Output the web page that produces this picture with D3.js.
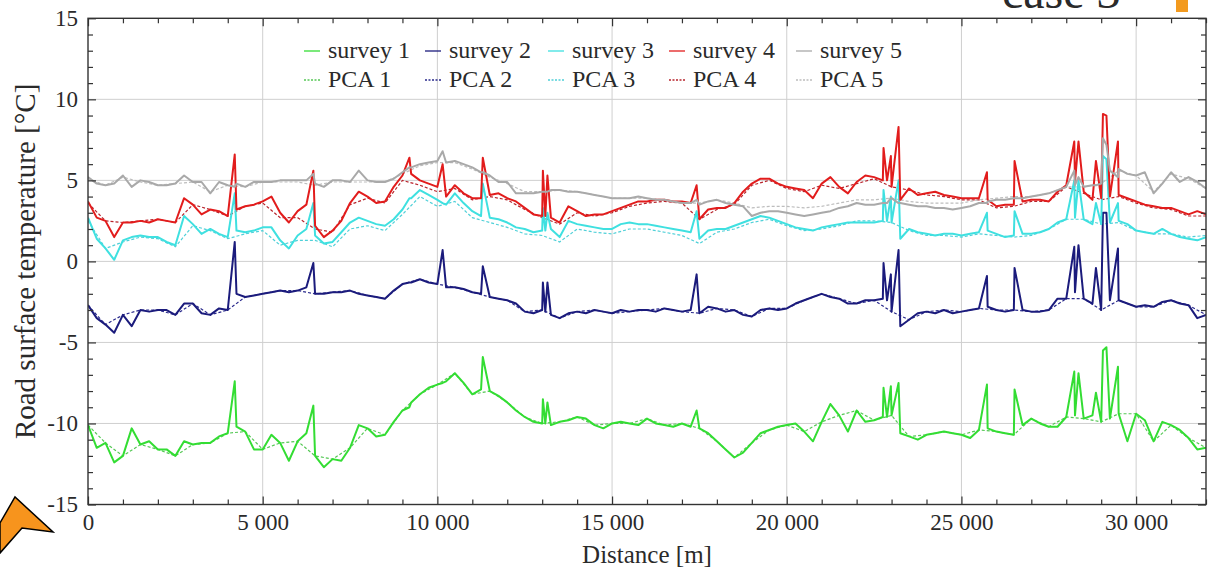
<!DOCTYPE html>
<html>
<head>
<meta charset="utf-8">
<script src="https://cdn.jsdelivr.net/npm/d3@7"></script>
<style>
  body { margin: 0; background: #fff; }
  svg text { font-family: "Liberation Serif", "DejaVu Serif", serif; fill: #2a2a2a; }
</style>
</head>
<body>
<div id="graph"></div>
<script>
// distance grid [m] shared by all survey series
var distances = d3.range(0, 32001, 250);

var survey1 = [-10.1,-11.5,-11.2,-12.4,-12.0,-10.3,-11.3,-11.1,-11.6,-11.6,-12.0,-11.1,-11.3,-11.2,-11.2,-10.8,-10.6,-10.2,-10.5,-11.6,
  -11.6,-10.7,-11.2,-12.3,-11.1,-10.6,-12.0,-12.7,-12.2,-12.3,-11.5,-10.1,-10.3,-10.8,-10.7,-9.9,-9.2,-8.7,-8.2,-7.8,
  -7.6,-7.4,-6.9,-7.5,-8.2,-7.9,-8.0,-8.3,-8.7,-9.2,-9.6,-9.9,-10.0,-10.1,-9.9,-9.8,-9.6,-9.7,-10.1,-10.3,
  -10.0,-9.9,-10.0,-10.1,-9.7,-10.0,-10.1,-10.2,-10.0,-10.2,-10.3,-10.6,-11.1,-11.6,-12.1,-11.8,-11.2,-10.6,-10.4,-10.2,
  -10.1,-10.0,-10.5,-11.1,-9.9,-8.8,-9.5,-10.5,-9.2,-9.9,-9.8,-9.6,-9.5,-10.6,-10.8,-11.0,-10.7,-10.6,-10.5,-10.6,
  -10.7,-10.9,-10.4,-10.3,-10.5,-10.6,-10.7,-10.1,-9.7,-10.0,-10.2,-10.2,-9.6,-9.5,-9.7,-9.5,-9.9,-9.7,-9.4,-11.1,
  -9.4,-9.8,-11.1,-9.9,-10.1,-10.4,-10.9,-11.6,-11.5];
var survey2 = [-2.7,-3.5,-3.9,-4.4,-3.3,-4.0,-3.0,-3.1,-3.0,-3.0,-3.3,-2.6,-2.6,-3.2,-3.3,-2.9,-3.0,-2.0,-2.2,-2.1,
  -2.0,-1.9,-1.8,-1.9,-1.8,-1.6,-2.0,-2.0,-1.9,-1.9,-1.8,-2.0,-2.1,-2.2,-2.3,-1.8,-1.4,-1.3,-1.1,-1.3,
  -1.4,-1.6,-1.6,-1.7,-1.9,-2.0,-2.2,-2.3,-2.4,-2.6,-3.1,-3.2,-3.0,-3.3,-3.5,-3.2,-3.1,-3.2,-3.0,-3.1,
  -3.2,-3.0,-3.1,-3.0,-3.0,-3.1,-2.9,-3.0,-3.1,-3.0,-3.2,-2.8,-2.9,-3.1,-3.0,-3.3,-3.4,-3.0,-2.9,-3.0,
  -2.9,-2.6,-2.4,-2.2,-2.0,-2.2,-2.3,-2.6,-2.6,-2.4,-2.4,-2.3,-3.1,-4.0,-3.6,-3.2,-3.1,-3.2,-3.0,-3.2,
  -3.1,-3.0,-2.9,-2.8,-3.0,-3.1,-3.0,-3.0,-3.1,-3.1,-3.0,-2.3,-2.3,-1.9,-2.3,-2.6,-3.0,-2.4,-2.4,-2.6,
  -2.8,-2.7,-2.8,-2.5,-2.4,-2.6,-2.7,-3.5,-3.3];
var survey3 = [2.7,1.4,0.8,0.1,1.3,1.5,1.6,1.5,1.5,1.2,1.0,2.8,2.3,1.7,2.0,1.7,1.5,1.9,1.8,1.9,
  2.1,2.1,1.3,0.8,1.6,2.0,1.6,1.1,1.2,1.8,2.4,2.7,2.5,2.3,2.2,2.6,3.2,3.9,4.4,4.1,
  3.8,3.5,4.2,3.6,3.1,2.8,2.7,2.6,2.4,2.1,2.0,1.8,1.9,2.0,1.5,2.5,2.3,2.2,2.1,2.0,
  2.0,2.3,2.4,2.3,2.3,2.2,2.1,2.0,1.9,1.8,1.4,1.9,2.0,2.0,2.2,2.4,2.6,2.8,2.7,2.5,
  2.3,2.1,2.0,1.9,2.1,2.2,2.3,2.4,2.4,2.4,2.4,2.5,2.4,1.4,2.0,1.8,1.7,1.6,1.7,1.7,
  1.6,1.7,1.8,1.9,1.7,1.5,1.6,1.7,1.7,1.8,2.0,2.4,2.6,2.7,2.6,2.3,2.3,2.4,2.5,2.3,
  1.9,1.8,1.7,2.0,1.7,1.5,1.4,1.3,1.5];
var survey4 = [3.7,2.7,2.5,1.5,2.4,2.4,2.5,2.4,2.6,2.5,2.4,3.9,3.5,2.9,3.2,3.1,2.8,3.2,3.4,3.5,
  3.7,4.0,3.0,2.4,3.1,3.5,2.2,1.5,1.9,2.5,3.6,4.3,4.0,3.6,3.7,4.6,5.3,5.4,5.0,4.8,
  4.6,4.0,4.7,4.2,3.9,3.9,4.1,4.2,3.9,3.7,3.3,2.9,2.8,2.7,2.4,3.4,3.1,2.8,2.9,2.9,
  3.1,3.3,3.5,3.7,3.7,3.8,3.8,3.7,3.7,3.6,2.6,3.2,3.3,3.3,3.6,4.3,4.8,5.1,5.1,4.8,
  4.6,4.5,4.4,3.9,4.8,5.2,4.6,4.2,4.9,5.3,5.2,5.0,4.6,3.8,4.5,4.1,4.2,4.3,4.1,4.0,
  3.9,3.9,3.9,3.8,3.4,3.5,3.5,3.7,3.8,3.8,3.7,4.3,4.7,4.9,4.3,3.8,3.9,4.0,4.1,3.9,
  3.7,3.5,3.4,3.3,3.3,3.1,2.9,3.1,2.9];
var survey5 = [5.2,4.8,4.7,4.8,5.3,4.6,5.0,4.9,4.7,4.7,4.8,5.3,4.9,4.9,4.2,4.9,4.7,4.8,4.6,4.9,
  4.9,4.9,5.0,5.0,5.0,5.0,4.8,4.6,5.0,5.0,4.9,5.6,5.0,4.9,4.9,5.1,5.5,5.8,6.0,6.1,
  6.2,6.1,6.2,6.0,5.8,5.5,5.3,4.9,4.9,4.2,4.2,4.2,4.3,4.4,4.4,4.3,4.3,4.2,4.1,4.0,
  3.9,3.9,3.9,4.0,3.9,3.8,3.8,3.7,3.6,3.6,3.5,3.7,3.8,3.6,3.5,3.4,2.8,3.0,3.1,3.1,
  3.0,2.9,2.8,2.9,3.0,3.1,3.3,3.4,3.6,3.5,3.5,3.6,3.9,3.6,3.5,3.4,3.4,3.3,3.3,3.2,
  3.3,3.4,3.6,3.7,3.8,3.8,3.9,3.9,4.0,4.1,4.2,4.4,4.6,4.7,4.6,4.7,4.8,5.6,5.7,5.4,
  5.3,5.5,4.2,4.8,5.5,4.9,5.2,4.9,4.5];

// narrow peaks (bridges, junctions) recorded in every survey
var spikeAt = [4200, 6450, 9200, 10150, 11300, 13020, 13090, 13150, 17420, 22770, 22870, 22980, 23200,
  25730, 26520, 28230, 28350, 28850, 29050, 29150, 29480];
var spike1 = [-7.4,-8.9,-9.0,-7.5,-5.9,-8.5,-10.0,-8.7,-9.2,-7.8,-9.6,-7.7,-7.5,-7.6,-7.9,-6.8,-6.9,-8.1,-5.5,-5.3,-6.5];
var spike2 = [1.2,-0.1,-1.3,0.7,-0.3,-1.3,-3.1,-1.3,-0.8,-0.1,-2.4,-0.8,0.7,-0.9,-0.4,0.9,1.0,-0.4,3.0,3.0,0.8];
var spike3 = [4.2,3.6,3.9,3.6,4.8,3.3,1.9,3.0,3.1,4.4,2.5,4.0,5.0,3.0,3.1,5.0,5.0,3.6,6.5,6.3,3.6];
var spike4 = [6.6,5.6,6.4,6.0,6.4,5.6,2.8,5.3,4.7,7.0,5.0,6.5,8.3,5.5,6.2,7.4,7.4,6.2,9.1,9.0,7.4];
var spike5 = [4.6,5.4,5.8,6.8,5.5,4.3,4.3,4.3,3.8,3.6,3.6,3.9,3.6,3.6,3.9,5.6,5.2,4.7,7.6,7.2,5.2];

// PCA reconstructions, coarser grid
var pcaDistances = d3.range(0, 32001, 500);
var pca1 = [-10.1,-11.2,-12.0,-11.3,-11.6,-12.0,-11.3,-11.2,-10.6,-10.5,-11.6,-11.2,-11.1,-12.0,-12.2,-11.5,-10.3,-10.7,-9.2,-8.2,
  -7.6,-6.9,-8.2,-8.0,-8.7,-9.6,-10.0,-9.9,-9.6,-10.1,-10.0,-10.0,-9.7,-10.1,-10.0,-10.3,-11.1,-12.1,-11.2,-10.4,
  -10.1,-10.5,-9.9,-9.5,-9.2,-9.8,-9.5,-10.8,-10.7,-10.5,-10.7,-10.4,-10.5,-10.7,-9.7,-10.2,-9.6,-9.7,-9.9,-9.4,
  -9.4,-11.1,-10.1,-10.9,-11.5];
var pca2 = [-2.7,-3.9,-3.3,-3.0,-3.0,-3.3,-2.6,-3.3,-3.0,-2.2,-2.0,-1.8,-1.8,-2.0,-1.9,-1.8,-2.1,-2.3,-1.4,-1.1,
  -1.4,-1.6,-1.9,-2.2,-2.4,-3.1,-3.0,-3.5,-3.1,-3.0,-3.2,-3.1,-3.0,-2.9,-3.1,-3.2,-2.9,-3.0,-3.4,-2.9,
  -2.9,-2.4,-2.0,-2.3,-2.6,-2.4,-3.1,-3.6,-3.1,-3.0,-3.1,-2.9,-3.0,-3.0,-3.1,-3.0,-2.3,-2.3,-3.0,-2.4,
  -2.8,-2.8,-2.4,-2.7,-3.3];
var pca3 = [2.5,0.8,1.2,1.5,1.4,0.9,2.2,1.9,1.4,1.7,1.9,1.0,1.3,1.3,0.9,2.0,2.2,1.9,2.9,4.0,
  3.4,3.7,2.7,2.4,2.1,1.7,1.6,1.2,2.0,1.8,1.7,2.0,2.0,1.8,1.6,1.1,1.8,2.0,2.4,2.6,
  2.2,1.9,2.0,2.2,2.5,2.5,2.4,1.9,1.6,1.6,1.5,1.7,1.6,1.5,1.6,2.0,2.6,2.6,2.3,2.4,
  1.9,1.7,1.7,1.5,1.6];
var pca4 = [3.6,2.5,2.4,2.5,2.6,2.4,3.5,3.2,2.8,3.4,3.6,2.7,2.7,2.0,1.8,3.5,3.9,3.6,5.0,4.7,
  4.3,4.5,3.8,4.0,3.8,3.2,2.7,2.3,3.0,2.8,3.0,3.4,3.6,3.7,3.6,2.6,3.2,3.5,4.7,5.0,
  4.5,4.3,4.7,4.5,4.8,5.1,4.6,4.4,4.1,4.0,3.8,3.8,3.3,3.4,3.7,3.7,4.6,4.2,3.8,4.0,
  3.6,3.3,3.2,2.8,2.8];
var pca5 = [5.1,4.7,5.2,4.9,4.7,4.8,4.9,4.3,4.7,4.6,4.9,4.9,4.9,4.7,4.9,4.9,4.9,4.9,5.4,5.9,
  6.1,6.1,5.7,5.2,4.8,4.3,4.3,4.4,4.3,4.1,3.9,3.9,3.9,3.8,3.6,3.6,3.8,3.6,3.3,3.4,
  3.4,3.3,3.4,3.6,3.8,3.8,3.9,3.7,3.6,3.6,3.6,3.8,3.9,4.0,4.0,4.2,4.6,4.6,4.8,5.6,
  5.3,4.3,5.4,5.1,4.5];

var surveyNames = ["survey 1", "survey 2", "survey 3", "survey 4", "survey 5"];
var pcaNames = ["PCA 1", "PCA 2", "PCA 3", "PCA 4", "PCA 5"];
var xTickLabels = ["0", "5 000", "10 000", "15 000", "20 000", "25 000", "30 000"];
var yTickLabels = ["-15", "-10", "-5", "0", "5", "10", "15"];

var surveyColors = ["#33dd33", "#1b1b7c", "#3fe0e0", "#e21c1c", "#a9a9a9"];
var pcaColors = ["#55c855", "#2a2a8c", "#4fd0d8", "#b8242c", "#bdbdbd"];

var width = 1215, height = 570;
var plot = { left: 88, right: 1206, top: 18.3, bottom: 504.5 };

// merge the regular grid with the spike samples, sorted by distance
function buildSeries(grid, values, peaks) {
  var pts = grid.map(function (d, i) { return [d, values[i]]; });
  if (peaks) {
    spikeAt.forEach(function (d, j) { pts.push([d, peaks[j]]); });
  }
  pts.sort(function (a, b) { return a[0] - b[0]; });
  return pts;
}

function fmtDist(d) {
  return xTickLabels[d / 5000];
}

function start() {
  var svg = d3.select("#graph").append("svg")
    .attr("width", width)
    .attr("height", height);

  var x = d3.scaleLinear().domain([0, 32000]).range([plot.left, plot.right]);
  var y = d3.scaleLinear().domain([-15, 15]).range([plot.bottom, plot.top]);

  svg.append("clipPath").attr("id", "clip")
    .append("rect")
    .attr("x", plot.left).attr("y", plot.top)
    .attr("width", plot.right - plot.left).attr("height", plot.bottom - plot.top);

  var majorX = d3.range(0, 32001, 5000);
  var minorX = d3.range(0, 32001, 1000).filter(function (d) { return d % 5000 != 0; });
  var majorY = d3.range(-15, 16, 5);
  var minorY = d3.range(-15, 16, 1).filter(function (d) { return d % 5 != 0; });

  // grid lines at major ticks
  var grid = svg.append("g").attr("stroke", "#cfcfcf").attr("stroke-width", 1);
  grid.selectAll(".gx").data(majorX.slice(1)).enter().append("line")
    .attr("x1", function (d) { return x(d); }).attr("x2", function (d) { return x(d); })
    .attr("y1", plot.top).attr("y2", plot.bottom);
  grid.selectAll(".gy").data(majorY.slice(1, -1)).enter().append("line")
    .attr("y1", function (d) { return y(d); }).attr("y2", function (d) { return y(d); })
    .attr("x1", plot.left).attr("x2", plot.right);

  // PCA dashed lines underneath, surveys on top
  var line = d3.line().x(function (d) { return x(d[0]); }).y(function (d) { return y(d[1]); });
  var lines = svg.append("g").attr("clip-path", "url(#clip)").attr("fill", "none");

  var pcaData = [pca1, pca2, pca3, pca4, pca5];
  var spikeData = [spike1, spike2, spike3, spike4, spike5];
  var surveyData = [survey1, survey2, survey3, survey4, survey5];

  pcaData.forEach(function (vals, k) {
    lines.append("path")
      .attr("d", line(buildSeries(pcaDistances, vals, null)))
      .attr("stroke", pcaColors[k])
      .attr("stroke-width", 1.2)
      .attr("stroke-dasharray", "3,2");
  });
  surveyData.forEach(function (vals, k) {
    lines.append("path")
      .attr("d", line(buildSeries(distances, vals, spikeData[k])))
      .attr("stroke", surveyColors[k])
      .attr("stroke-width", 2)
      .attr("stroke-linejoin", "round");
  });

  // axes: ticks inside on all four sides
  function styleAxis(g) {
    g.select(".domain").remove();
    g.selectAll(".tick line").attr("stroke", "#333").attr("stroke-width", 1.2);
  }
  svg.append("g").attr("transform", "translate(0," + plot.bottom + ")")
    .call(d3.axisBottom(x).tickValues(minorX).tickSize(-5).tickFormat("")).call(styleAxis);
  svg.append("g").attr("transform", "translate(0," + plot.bottom + ")")
    .call(d3.axisBottom(x).tickValues(majorX).tickSize(-8).tickPadding(9).tickFormat(fmtDist))
    .call(styleAxis)
    .selectAll("text").attr("font-size", "23px").attr("fill", "#2a2a2a")
    .attr("font-family", "Liberation Serif, serif");
  svg.append("g").attr("transform", "translate(0," + plot.top + ")")
    .call(d3.axisTop(x).tickValues(minorX).tickSize(-5).tickFormat("")).call(styleAxis);
  svg.append("g").attr("transform", "translate(0," + plot.top + ")")
    .call(d3.axisTop(x).tickValues(majorX).tickSize(-8).tickFormat("")).call(styleAxis);

  svg.append("g").attr("transform", "translate(" + plot.left + ",0)")
    .call(d3.axisLeft(y).tickValues(minorY).tickSize(-5).tickFormat("")).call(styleAxis);
  svg.append("g").attr("transform", "translate(" + plot.left + ",0)")
    .call(d3.axisLeft(y).tickValues(majorY).tickSize(-8).tickPadding(10)
      .tickFormat(function (d, i) { return yTickLabels[i]; }))
    .call(styleAxis)
    .selectAll("text").attr("font-size", "23px").attr("fill", "#2a2a2a")
    .attr("font-family", "Liberation Serif, serif");
  svg.append("g").attr("transform", "translate(" + plot.right + ",0)")
    .call(d3.axisRight(y).tickValues(minorY).tickSize(-5).tickFormat("")).call(styleAxis);
  svg.append("g").attr("transform", "translate(" + plot.right + ",0)")
    .call(d3.axisRight(y).tickValues(majorY).tickSize(-8).tickFormat("")).call(styleAxis);

  // frame
  svg.append("rect")
    .attr("x", plot.left).attr("y", plot.top)
    .attr("width", plot.right - plot.left).attr("height", plot.bottom - plot.top)
    .attr("fill", "none").attr("stroke", "#333").attr("stroke-width", 1.4);

  // legend, two rows
  var colX = [328, 449, 572, 693, 820];
  var leg = svg.append("g");
  [surveyNames, pcaNames].forEach(function (names, row) {
    var base = row == 0 ? 58 : 87;
    names.forEach(function (name, k) {
      leg.append("line")
        .attr("x1", colX[k] - 24).attr("x2", colX[k] - 8)
        .attr("y1", base - 7).attr("y2", base - 7)
        .attr("stroke", row == 0 ? surveyColors[k] : pcaColors[k])
        .attr("stroke-width", 1.3)
        .attr("stroke-dasharray", row == 0 ? null : "2,1.5");
      leg.append("text")
        .attr("x", colX[k]).attr("y", base)
        .attr("font-size", "24px")
        .text(name);
    });
  });

  // axis titles
  svg.append("text")
    .attr("x", (plot.left + plot.right) / 2).attr("y", 563)
    .attr("text-anchor", "middle").attr("font-size", "25px")
    .text("Distance [m]");
  svg.append("text")
    .attr("transform", "translate(35," + ((plot.top + plot.bottom) / 2) + ") rotate(-90)")
    .attr("text-anchor", "middle").attr("font-size", "29px")
    .text("Road surface temperature [°C]");

  // slide decorations: cut-off caption and pointer arrow
  svg.append("text")
    .attr("x", 1002).attr("y", 8)
    .attr("font-family", "Liberation Sans, Arial, sans-serif")
    .attr("font-size", "48px").attr("fill", "#111")
    .text("case 3");
  svg.append("rect")
    .attr("x", 1176).attr("y", 0).attr("width", 12).attr("height", 12)
    .attr("fill", "#f39a1e");
  svg.append("path")
    .attr("d", "M0,523 L15,497 L53,532 L22,528 L0,553 Z")
    .attr("fill", "#f7941d").attr("stroke", "#000").attr("stroke-width", 1.5);
}

window.onload = start;
</script>
</body>
</html>
